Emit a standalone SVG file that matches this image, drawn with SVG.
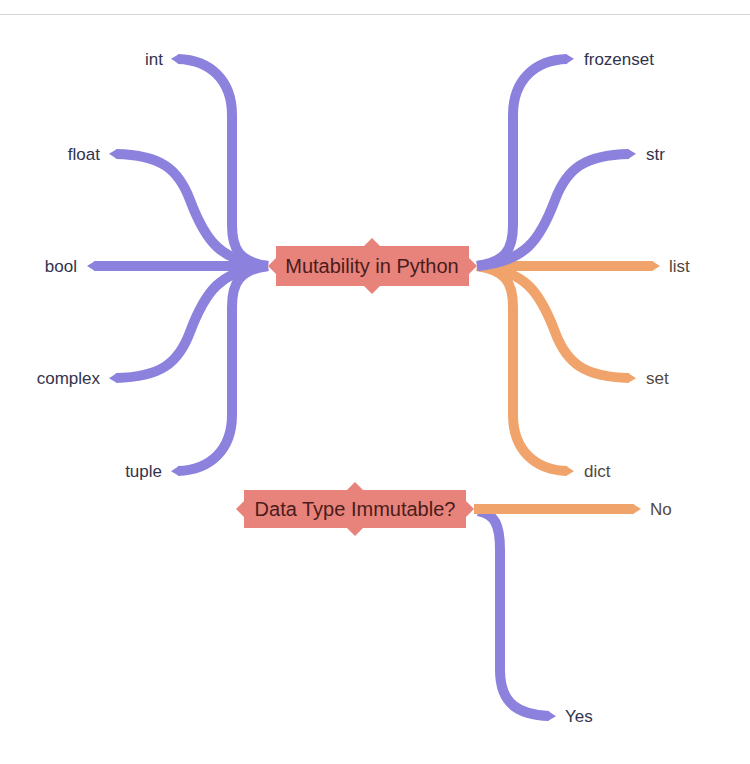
<svg xmlns="http://www.w3.org/2000/svg" width="750" height="764" viewBox="0 0 750 764">
<defs>
<style>
.p{fill:none;stroke:#8c82de;stroke-width:10}
.o{fill:none;stroke:#f0a46c;stroke-width:10}
.pm{marker-end:url(#ap)}
.om{marker-end:url(#ao)}
.node{fill:#e8837b}
.nt{font-family:"Liberation Sans",Arial,sans-serif;font-size:20px;fill:#4a1c1c;text-anchor:middle}
.lb{font-family:"Liberation Sans",Arial,sans-serif;font-size:17px;fill:#33334d}
.lo{font-family:"Liberation Sans",Arial,sans-serif;font-size:17px;fill:#54483c}
.e{text-anchor:end}
</style>
<marker id="ap" markerUnits="userSpaceOnUse" markerWidth="12" markerHeight="12" refX="0" refY="6" orient="auto" overflow="visible">
<path d="M-1,1 L7,6 L-1,11 z" fill="#8c82de"/>
</marker>
<marker id="ao" markerUnits="userSpaceOnUse" markerWidth="12" markerHeight="12" refX="0" refY="6" orient="auto" overflow="visible">
<path d="M-1,1 L7,6 L-1,11 z" fill="#f0a46c"/>
</marker>
</defs>
<rect width="750" height="764" fill="#ffffff"/>
<line x1="0" y1="14.5" x2="750" y2="14.5" stroke="#d6d6d6" stroke-width="1"/>
<g id="connectors">
<path class="p pm" d="M268,266 C240,262 232,250 232,225 L232,115 C232,80 210,60 178,59"/>
<path class="p pm" d="M268,266 C220,262 205,240 190,200 C178,168 160,155 116,154"/>
<path class="p pm" d="M268,266 L94,266"/>
<path class="p pm" d="M268,266 C220,270 205,292 190,332 C178,364 160,377 116,378"/>
<path class="p pm" d="M268,266 C240,270 232,282 232,307 L232,415 C232,450 210,470 178,471"/>
<path class="o om" d="M477,266 L653,266"/>
<path class="o om" d="M477,266 C525,270 540,292 555,332 C567,364 585,377 629,378"/>
<path class="o om" d="M477,266 C505,270 513,282 513,307 L513,415 C513,450 535,470 567,471"/>
<path class="p pm" d="M477,266 C505,262 513,250 513,225 L513,115 C513,80 535,60 567,59"/>
<path class="p pm" d="M477,266 C525,262 540,240 555,200 C567,168 585,155 629,154"/>
<path class="p pm" d="M478,511 C495,514 500,525 500,550 L500,670 C500,705 520,715 549,716"/>
<path class="o om" d="M474,509 L634,509"/>
</g>
<g id="node-main">
<path class="node" d="M276,246 L364,246 L372,238 L380,246 L469,246 L469,258 L477,266 L469,274 L469,286 L380,286 L372,294 L364,286 L276,286 L276,274 L268,266 L276,258 z"/>
<text class="nt" x="372" y="273">Mutability in Python</text>
</g>
<g id="node-question">
<path class="node" d="M244,490 L347,490 L355,482 L363,490 L466,490 L466,501 L474,509 L466,517 L466,528 L363,528 L355,536 L347,528 L244,528 L244,517 L236,509 L244,501 z"/>
<text class="nt" x="355" y="516">Data Type Immutable?</text>
</g>
<g id="leaf-int"><text class="lb e" x="163" y="65">int</text></g>
<g id="leaf-float"><text class="lb e" x="100" y="160">float</text></g>
<g id="leaf-bool"><text class="lb e" x="77" y="272">bool</text></g>
<g id="leaf-complex"><text class="lb e" x="100" y="384">complex</text></g>
<g id="leaf-tuple"><text class="lb e" x="162" y="477">tuple</text></g>
<g id="leaf-frozenset"><text class="lb" x="584" y="65">frozenset</text></g>
<g id="leaf-str"><text class="lb" x="646" y="160">str</text></g>
<g id="leaf-list"><text class="lo" x="669" y="272">list</text></g>
<g id="leaf-set"><text class="lo" x="646" y="384">set</text></g>
<g id="leaf-dict"><text class="lo" x="584" y="477">dict</text></g>
<g id="leaf-no"><text class="lo" x="650" y="515">No</text></g>
<g id="leaf-yes"><text class="lb" x="565" y="722">Yes</text></g>
</svg>
